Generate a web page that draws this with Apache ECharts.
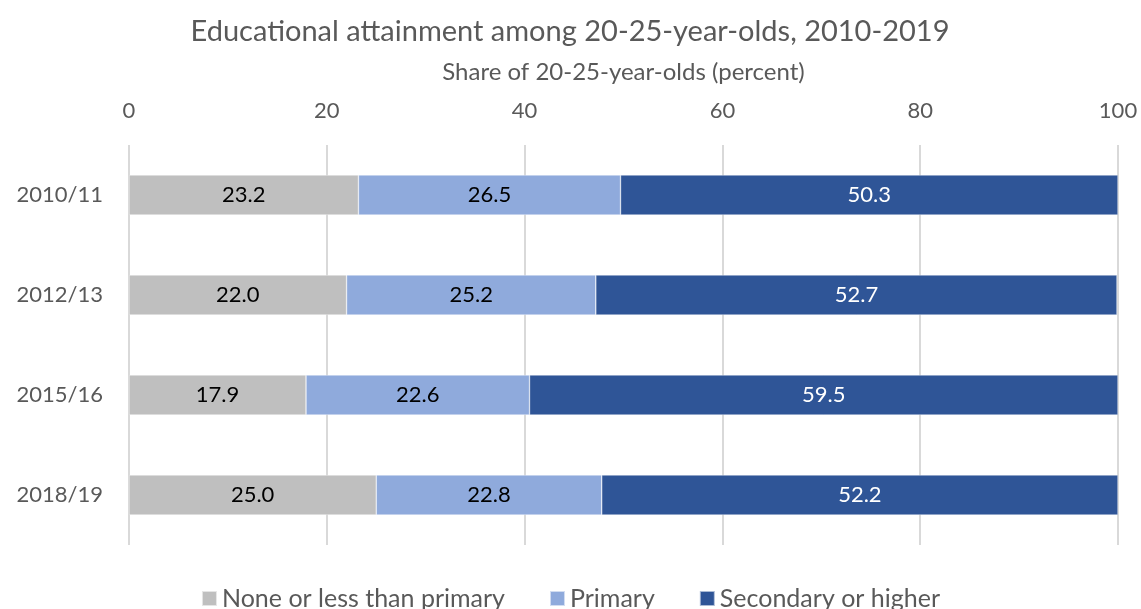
<!DOCTYPE html>
<html>
<head>
<meta charset="utf-8">
<script src="https://cdn.jsdelivr.net/npm/echarts@6/dist/echarts.min.js"></script>
<style>
  html, body { margin: 0; padding: 0; background: #fff; }
  #chart { width: 1141px; height: 609px; }
</style>
</head>
<body>
<div id="chart"></div>
<script>
// Survey rounds, top to bottom
const periods = ['2010/11', '2012/13', '2015/16', '2018/19'];
// Share of 20-25-year-olds by highest level attained (percent)
const noneOrLess = [23.2, 22.0, 17.9, 25.0];
const primary = [26.5, 25.2, 22.6, 22.8];
const secondaryPlus = [50.3, 52.7, 59.5, 52.2];

const FONT = 'Lato, "Open Sans", sans-serif';
const chart = echarts.init(document.getElementById('chart'), null, { renderer: 'canvas' });

function seg(name, data, color, labelColor) {
  return {
    name: name,
    type: 'bar',
    stack: 'total',
    data: data,
    barWidth: 40,
    itemStyle: { color: color, borderColor: 'rgba(255,255,255,0.6)', borderWidth: 0.6 },
    label: {
      show: true,
      position: 'inside',
      formatter: p => p.value.toFixed(1),
      color: labelColor,
      fontFamily: FONT,
      fontSize: 22
    },
    emphasis: { disabled: true }
  };
}

chart.setOption({
  animation: false,
  title: {
    text: 'Educational attainment among 20-25-year-olds, 2010-2019',
    left: 565,
    textAlign: 'center',
    top: 12,
    textStyle: { fontFamily: FONT, fontSize: 29, fontWeight: 'normal', color: '#595959' }
  },
  grid: { left: 129, right: 23, top: 145, bottom: 64 },
  xAxis: {
    type: 'value',
    position: 'top',
    min: 0,
    max: 100,
    interval: 20,
    name: 'Share of 20-25-year-olds (percent)',
    nameLocation: 'middle',
    nameGap: 61,
    nameTextStyle: { fontFamily: FONT, fontSize: 24, color: '#595959' },
    axisLine: { show: false },
    axisTick: { show: false },
    axisLabel: { margin: 23, fontFamily: FONT, fontSize: 22, color: '#595959' },
    splitLine: { show: true, lineStyle: { color: '#d9d9d9', width: 2 } }
  },
  yAxis: {
    type: 'category',
    data: periods,
    inverse: true,
    axisLine: { show: false },
    axisTick: { show: false },
    axisLabel: { margin: 26, fontFamily: FONT, fontSize: 22, color: '#595959' }
  },
  legend: {
    bottom: -7,
    left: 'center',
    itemWidth: 15,
    itemHeight: 15,
    itemGap: 44,
    icon: 'rect',
    textStyle: { fontFamily: FONT, fontSize: 25, color: '#595959' },
    data: ['None or less than primary', 'Primary', 'Secondary or higher']
  },
  series: [
    seg('None or less than primary', noneOrLess, '#bfbfbf', '#000000'),
    seg('Primary', primary, '#8faadc', '#000000'),
    seg('Secondary or higher', secondaryPlus, '#2f5597', '#ffffff')
  ]
});
</script>
</body>
</html>
